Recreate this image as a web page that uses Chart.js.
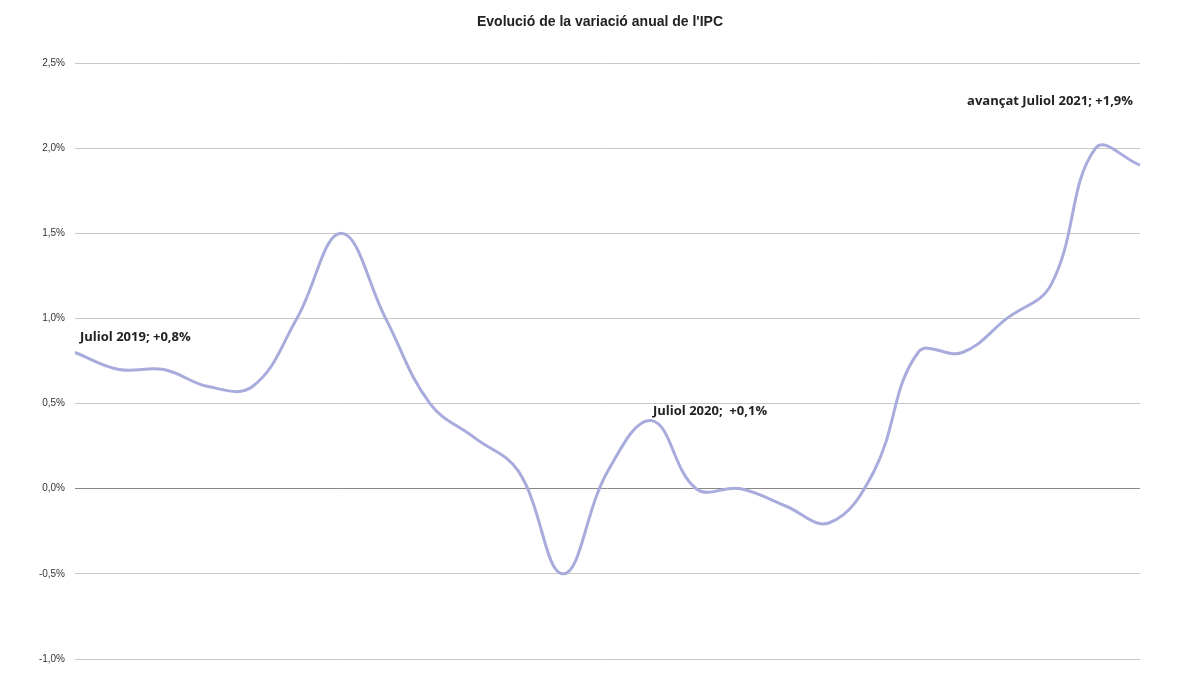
<!DOCTYPE html>
<html><head><meta charset="utf-8">
<script src="https://cdn.jsdelivr.net/npm/chart.js@4/dist/chart.umd.min.js"></script>
<style>html,body{margin:0;padding:0;background:#fff}#w{width:1200px;height:675px}</style>
</head><body><div id="w"><canvas id="c"></canvas></div>
<script>
const months = ["Jul 2019","Ago 2019","Set 2019","Oct 2019","Nov 2019","Des 2019","Gen 2020","Feb 2020","Mar 2020","Abr 2020","Mai 2020","Jun 2020","Jul 2020","Ago 2020","Set 2020","Oct 2020","Nov 2020","Des 2020","Gen 2021","Feb 2021","Mar 2021","Abr 2021","Mai 2021","Jun 2021","Jul 2021"];
const ipc = [0.8,0.7,0.7,0.6,0.6,1.0,1.5,1.0,0.5,0.3,0.1,-0.5,0.1,0.4,0.0,0.0,-0.1,-0.2,0.1,0.8,0.8,1.0,1.2,2.0,1.9];
const titleText = "Evolució de la variació anual de l'IPC";
const notes = [
  {text:"Juliol 2019; +0,8%", x:80, y:344, align:"left"},
  {text:"Juliol 2020;  +0,1%", x:653, y:418, align:"left"},
  {text:"avançat Juliol 2021; +1,9%", x:1133, y:108, align:"right"}
];
const deco = {
  id:'deco',
  afterDraw(ch){
    const c=ch.ctx;
    c.save();
    c.fillStyle='#222';
    c.font='bold 14px "Liberation Sans", Arial, sans-serif';
    c.textAlign='center';c.textBaseline='middle';
    c.fillText(titleText,600,22);
    c.font='bold 13px "Open Sans", sans-serif';
    c.textBaseline='bottom';
    notes.forEach(n=>{c.textAlign=n.align;c.fillText(n.text,n.x,n.y);});
    c.restore();
  }
};
new Chart(document.getElementById('c'),{
  type:'line',
  data:{labels:months,datasets:[{data:ipc,borderColor:'#a7acdc',borderWidth:3,pointRadius:0,tension:0.4}]},
  options:{responsive:true,maintainAspectRatio:false,animation:false,
    layout:{padding:{top:63,right:60,bottom:-6,left:0}},
    plugins:{legend:{display:false},tooltip:{enabled:false},title:{display:false}},
    scales:{
      x:{display:false,offset:false},
      y:{min:-1,max:2.5,
        afterFit(s){s.width=75;},
        border:{display:false},
        grid:{color:ctx=>ctx.tick.value===0?'#888':'#c8c8c8',lineWidth:1,drawTicks:false},
        ticks:{stepSize:0.5,padding:10,color:'#333',font:{size:10,family:'"Liberation Sans", Arial'},
          callback:v=>v.toFixed(1).replace('.',',')+'%'}
      }
    }
  },
  plugins:[deco]
});
</script></body></html>
